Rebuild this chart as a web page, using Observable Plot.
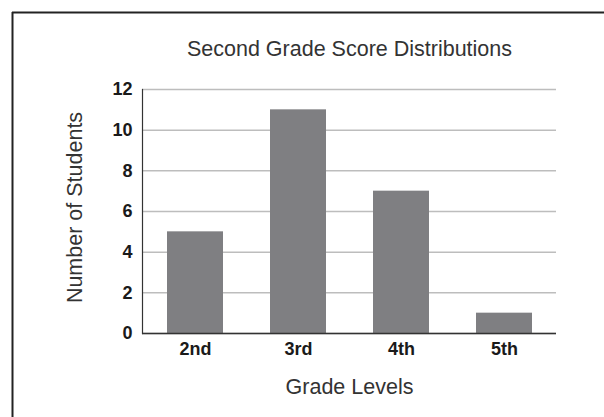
<!DOCTYPE html>
<html>
<head>
<meta charset="utf-8">
<script src="https://cdn.jsdelivr.net/npm/d3@7"></script>
<script src="https://cdn.jsdelivr.net/npm/@observablehq/plot@0.6"></script>
<style>
  html, body { margin: 0; padding: 0; background: #fff; }
  #chart svg { display: block; }
</style>
</head>
<body>
<div id="chart"></div>
<script>
const grades = ["2nd", "3rd", "4th", "5th"];
const students = [5, 11, 7, 1];
const yTicks = [0, 2, 4, 6, 8, 10, 12];
const titleText = "Second Grade Score Distributions";
const xLabel = "Grade Levels";
const yLabel = "Number of Students";

const data = grades.map((g, i) => ({grade: g, count: students[i]}));

const chart = Plot.plot({
  width: 604,
  height: 417,
  marginLeft: 142,
  marginRight: 48,
  marginTop: 89,
  marginBottom: 84,
  style: {fontFamily: "'Liberation Sans', Arial, Helvetica, sans-serif", fontSize: "18px", background: "#fff"},
  x: {domain: grades, paddingInner: 0.46, paddingOuter: 0.23, label: null},
  y: {domain: [0, 12], label: null},
  marks: [
    Plot.gridY(yTicks, {stroke: "#bdbdbd", strokeOpacity: 1, strokeWidth: 1.5}),
    Plot.barY(data, {x: "grade", y: "count", fill: "#7f7f82"}),
    Plot.ruleY([0], {stroke: "#333", strokeWidth: 1.5}),
    Plot.frame({anchor: "left", stroke: "#333", strokeWidth: 1.2}),
    Plot.axisY(yTicks, {tickSize: 0, tickPadding: 10, fontSize: 18, fontWeight: "bold", fill: "#1a1a1a", label: null}),
    Plot.axisX({tickSize: 0, tickPadding: 9, fontSize: 18, fontWeight: "bold", fill: "#1a1a1a", label: null}),
    Plot.text([titleText], {frameAnchor: "top", dy: -40, fontSize: 21.5, fontWeight: "normal", fill: "#333", lineAnchor: "middle"}),
    Plot.text([xLabel], {frameAnchor: "bottom", dy: 54, fontSize: 21.5, fontWeight: "normal", fill: "#333", lineAnchor: "middle"}),
    Plot.text([yLabel], {frameAnchor: "left", dx: -67, dy: -4, rotate: -90, textAnchor: "middle", fontSize: 21.5, fontWeight: "normal", fill: "#333", lineAnchor: "middle"})
  ]
});

// outer frame (top and left edges of the figure box)
const svg = d3.select(chart);
svg.append("line").attr("x1", 12).attr("x2", 604).attr("y1", 12.5).attr("y2", 12.5)
  .attr("stroke", "#222").attr("stroke-width", 2);
svg.append("line").attr("x1", 12.5).attr("x2", 12.5).attr("y1", 12).attr("y2", 417)
  .attr("stroke", "#222").attr("stroke-width", 2);

document.getElementById("chart").appendChild(chart);
</script>
</body>
</html>
